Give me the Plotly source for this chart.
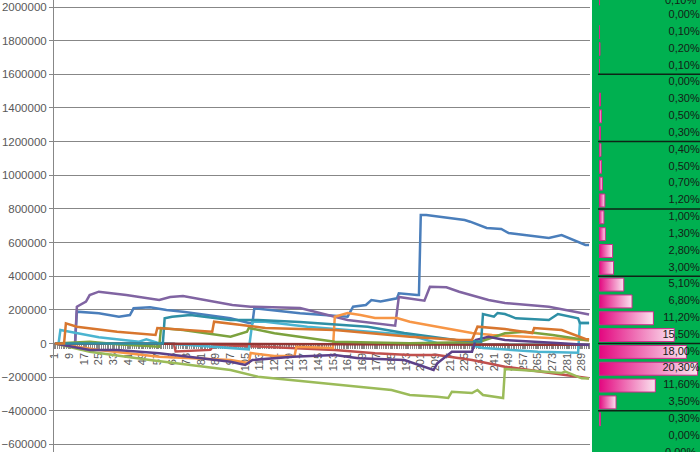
import plotly.graph_objects as go

# ---- line series: (category index, value) break points ----
blue_x = [1, 12, 13, 25, 36, 42, 44, 53, 62, 71, 97, 107, 109, 110, 135, 161, 164, 171, 174, 179, 188, 189, 199, 200,
          201, 204, 225, 228, 237, 245, 249, 271, 278, 291, 293]
blue_y = [0, 0, 189000, 179500, 159300, 169400, 209200, 215200, 199100, 189000, 149800, 121900, 121900, 209000, 180000,
          159300, 218700, 228800, 258600, 249000, 268700, 298400, 288300, 288300,
          763800, 763000, 734000, 724000, 686500, 680600, 656800, 627100, 645000, 585500, 585000]

red_x = [1, 66, 67, 86, 88, 115, 154, 176, 195, 210, 229, 247, 280, 291, 293]
red_y = [0, -2000, -48000, -38000, -9000, -19000, -38600, -58300, -68400, -68400, -98100, -137900, -187200, -205000,
         -206000]

green_x = [1, 20, 53, 97, 112, 149, 167, 185, 195, 210, 216, 218, 229, 232, 235, 246, 247, 256, 278, 280, 289, 293]
green_y = [0, -48700, -98100, -157500, -197300, -234800, -256800, -276400, -306100, -316200, -324000, -286500,
           -294200, -276400, -306100, -324000, -151600, -157500, -175300, -167600, -206900, -208000]

purple_x = [1, 12, 13, 18, 20, 25, 40, 47, 58, 64, 71, 98, 108, 135, 161, 187, 189, 203, 206, 215, 222, 238, 247, 271,
            291, 293]
purple_y = [0, 0, 218700, 248500, 288000, 307900, 288300, 276000, 258600, 276400, 282300, 228300, 218700, 211000,
            140000, 105800, 276400, 254400, 337600, 334000, 307900, 258600, 240700, 218700, 175300, 172000]

lightblue_x = [1, 3, 4, 9, 25, 47, 51, 57, 97, 107, 109, 116, 139, 195, 210, 224, 235, 265, 287, 288, 293]
lightblue_y = [0, 0, 80200, 70100, 36900, 10700, 25000, 4800, -28500, -34500, 129600, 129600, 99900, 50500, 1200,
               1200, -26700, -48700, -54700, 121800, 121800]

orange_x = [1, 25, 58, 97, 107, 108, 121, 132, 133, 152, 153, 154, 161, 168, 176, 188, 195, 210, 229, 240, 256, 291,
            293]
orange_y = [0, -38600, -78500, -98100, -115900, -56500, -74300, -74300, -19000, -26700, -26700, 159300, 181300,
            169400, 151600, 151600, 129600, 99900, 62400, 50500, 40400, 20800, 20000]

darkred_x = [1, 100, 200, 293]
darkred_y = [0, -4000, -6000, -8000]

olive_x = [1, 20, 35, 58, 59, 71, 97, 106, 107, 121, 154, 195, 233, 247, 258, 273, 291, 293]
olive_y = [0, 10700, -5000, -19000, 92100, 80200, 40400, 70100, 92100, 60600, 10700, 1200, 8900, 60600, 70100, 50500,
           20800, 20000]

darkpurple_x = [1, 20, 35, 58, 97, 105, 109, 131, 154, 167, 192, 208, 210, 218, 229, 231, 238, 247, 273, 291, 293]
darkpurple_y = [0, -38600, -38600, -58300, -108200, -127800, -98100, -78500, -68400, -88000, -98100, -157500, -117700,
                -48700, -48700, 20800, 40400, 20800, 4800, -8900, -9000]

teal_x = [1, 60, 61, 65, 75, 97, 112, 135, 172, 192, 220, 234, 235, 241, 243, 247, 253, 271, 276, 284, 287, 288, 293]
teal_y = [0, 0, 149800, 159300, 169400, 139700, 139700, 127800, 99900, 62400, 20800, 10700, 175300, 159300, 181300,
          175300, 149800, 139700, 175300, 159300, 149800, 121800, 121800]

darkorange_x = [1, 6, 7, 13, 35, 56, 57, 87, 88, 116, 154, 195, 222, 229, 232, 247, 262, 263, 278, 291, 293]
darkorange_y = [0, 0, 120000, 99900, 70100, 50500, 92100, 70100, 129600, 92100, 80200, 40400, 20800, 20800, 99900,
                86200, 62400, 92100, 80200, 26700, 25000]

# ---- distribution panel on the right ----
bin_centers = [2050000, 1950000, 1850000, 1750000, 1650000, 1550000, 1450000, 1350000, 1250000, 1150000,
               1050000, 950000, 850000, 750000, 650000, 550000, 450000, 350000, 250000, 150000,
               50000, -50000, -150000, -250000, -350000, -450000, -550000, -650000]
bin_pct = [0.1, 0.0, 0.1, 0.2, 0.1, 0.0, 0.3, 0.5, 0.3, 0.4,
           0.5, 0.7, 1.2, 1.0, 1.3, 2.8, 3.0, 5.1, 6.8, 11.2,
           15.5, 18.0, 20.3, 11.6, 3.5, 0.3, 0.0, 0.0]
group_lines = [1600000, 1200000, 800000, 400000, 0, -400000]

Y_RANGE = [-644900, 2041600]
X2_RANGE = [0, 20.8]
FONT = 'Liberation Sans'
AXIS_GREY = '#878787'
LABEL_COLOR = '#142016'

series = [
    (blue_x, blue_y, '#4A7EBB'),
    (red_x, red_y, '#C0504D'),
    (green_x, green_y, '#9BBB59'),
    (purple_x, purple_y, '#8064A2'),
    (lightblue_x, lightblue_y, '#4BB4D0'),
    (orange_x, orange_y, '#F79646'),
    (darkred_x, darkred_y, '#943634'),
    (olive_x, olive_y, '#7CA23E'),
    (darkpurple_x, darkpurple_y, '#5C4189'),
    (teal_x, teal_y, '#2E8FA5'),
    (darkorange_x, darkorange_y, '#D8762E'),
]

fig = go.Figure()

for xs, ys, color in series:
    fig.add_trace(go.Scatter(
        x=xs, y=ys, mode='lines',
        line=dict(color=color, width=2.5),
        hoverinfo='skip'
    ))

# data bars (gradient pink), one polygon per bin
BAR_HALF = 38500
for c, p in zip(bin_centers, bin_pct):
    if p <= 0:
        continue
    fig.add_trace(go.Scatter(
        x=[0, p, p, 0, 0],
        y=[c - BAR_HALF, c - BAR_HALF, c + BAR_HALF, c + BAR_HALF, c - BAR_HALF],
        xaxis='x2', yaxis='y2', mode='lines', fill='toself',
        line=dict(color='#D3288C', width=1),
        fillgradient=dict(type='horizontal', colorscale=[[0, '#E3067F'], [1, '#FBE3EF']]),
        hoverinfo='skip'
    ))

# percentage labels; rows whose centre is past the window edge are pinned to that edge
pct_labels = [f"{p:.2f}".replace('.', ',') + '%' for p in bin_pct]
in_y = [c for c in bin_centers if Y_RANGE[0] <= c <= Y_RANGE[1]]
in_t = [t for c, t in zip(bin_centers, pct_labels) if Y_RANGE[0] <= c <= Y_RANGE[1]]
fig.add_trace(go.Scatter(
    x=[20.75] * len(in_y), y=in_y,
    xaxis='x2', yaxis='y2', mode='text',
    text=in_t, textposition='middle left',
    textfont=dict(family=FONT, size=11, color=LABEL_COLOR),
    cliponaxis=False, hoverinfo='skip'
))
annotations = []
for c, t in zip(bin_centers, pct_labels):
    if c > Y_RANGE[1] or c < Y_RANGE[0]:
        annotations.append(dict(
            text=t, xref='paper', x=0.997, xanchor='right',
            yref='paper', y=1.0 if c > Y_RANGE[1] else 0.0, yanchor='middle',
            showarrow=False, font=dict(family=FONT, size=11, color=LABEL_COLOR)
        ))

shapes = [dict(type='rect', xref='paper', yref='paper', x0=0.8328, x1=1.0, y0=0, y1=1,
               fillcolor='#00B050', line=dict(width=0), layer='below')]
for yv in group_lines:
    shapes.append(dict(type='line', xref='x2 domain', yref='y2', x0=-0.01, x1=1, y0=yv, y1=yv,
                       line=dict(color='#0E2416', width=1.5), layer='above'))

fig.update_layout(
    width=700, height=452,
    margin=dict(l=54, r=0, t=0, b=0),
    template='none',
    paper_bgcolor='white',
    plot_bgcolor='rgba(0,0,0,0)',
    showlegend=False,
    shapes=shapes,
    annotations=annotations,
    xaxis=dict(
        domain=[0, 0.8297], range=[0.5, 293.5],
        anchor='free', position=0.24004,
        tickmode='linear', tick0=1, dtick=8, tickangle=-90,
        tickfont=dict(family=FONT, size=11, color='#595959'),
        ticks='outside', ticklen=4, tickcolor=AXIS_GREY,
        minor=dict(tickmode='linear', tick0=0.5, dtick=1, ticks='outside', ticklen=4, tickcolor=AXIS_GREY),
        showline=True, linecolor=AXIS_GREY, linewidth=1,
        showgrid=False, zeroline=False, layer='below traces'
    ),
    yaxis=dict(
        domain=[0, 1], range=Y_RANGE,
        tick0=0, dtick=200000, tickformat='d',
        tickfont=dict(family=FONT, size=11.5, color='#595959'),
        ticks='outside', ticklen=4, tickcolor=AXIS_GREY,
        showline=True, linecolor=AXIS_GREY, linewidth=1,
        showgrid=True, gridcolor=AXIS_GREY, gridwidth=1, zeroline=False
    ),
    xaxis2=dict(domain=[0.8437, 1.0], range=X2_RANGE, anchor='y2', visible=False),
    yaxis2=dict(domain=[0, 1], range=Y_RANGE, anchor='x2', visible=False),
)

# page body margin off so the figure sits at the window's corner
fig.write_html("out.html", config={'displayModeBar': False},
               post_script="document.body.style.margin='0';")
